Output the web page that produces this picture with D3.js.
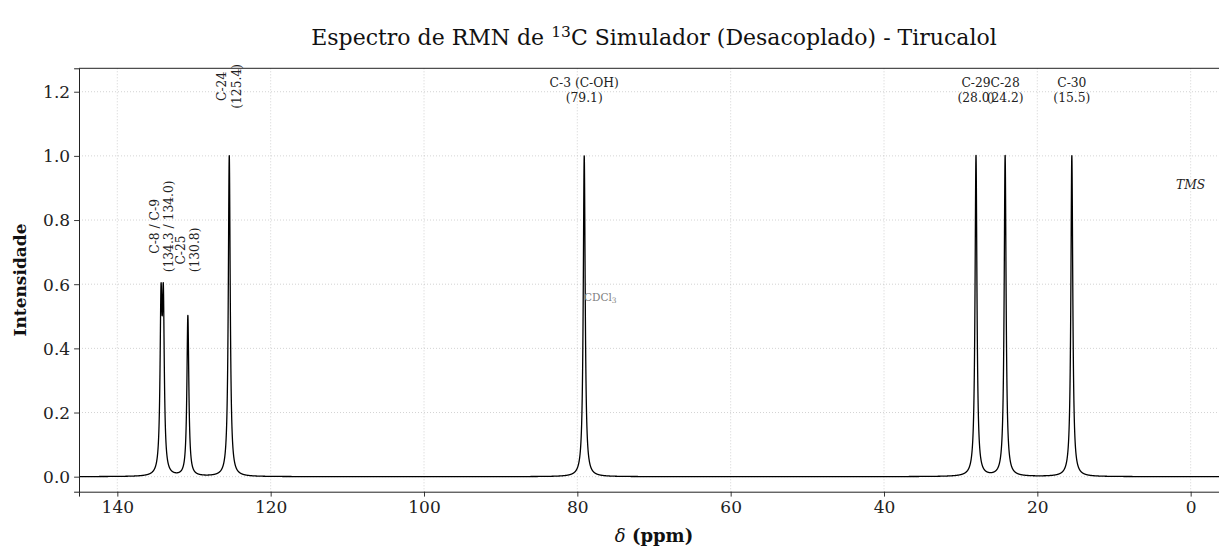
<!DOCTYPE html>
<html><head><meta charset="utf-8">
<script src="https://cdn.jsdelivr.net/npm/d3@7"></script>
<style>body{margin:0;background:#fff;overflow:hidden}text{font-family:"DejaVu Serif",serif}</style>
</head><body><svg id="c" width="1219" height="549"></svg>
<script>
// ---- data ----
const peakShifts = [134.3, 134.0, 130.8, 125.4, 79.1, 28.0, 24.2, 15.5];
const peakIntensities = [0.5, 0.5, 0.5, 1.0, 1.0, 1.0, 1.0, 1.0];
const lineHalfWidth = 0.15; // ppm (Lorentzian HWHM)
const labelTexts = [["C-8 / C-9", "(134.3 / 134.0)"], ["C-25", "(130.8)"], ["C-24", "(125.4)"],
  ["C-3 (C-OH)", "(79.1)"], ["C-29", "(28.0)"], ["C-28", "(24.2)"], ["C-30", "(15.5)"]];
const labelShifts = [134.15, 130.8, 125.4, 79.1, 28.0, 24.2, 15.5];
const labelHeights = [0.64, 0.64, 1.15, 1.15, 1.15, 1.15, 1.15];
const labelVertical = [true, true, true, false, false, false, false];
const solventLabel = {text: "CDCl", sub: "3", shift: 77.0, y: 0.56};
const refLabel = {text: "TMS", shift: 0.0, y: 0.91};
const xTicks = [140, 120, 100, 80, 60, 40, 20, 0];
const yTicks = [0.0, 0.2, 0.4, 0.6, 0.8, 1.0, 1.2];
const xDomain = [145, -5];
const yDomain = [-0.0468, 1.273];

// ---- spectrum curve from peak list (Lorentzian sum) ----
const curve = [];
for (let i = 0; i <= 30000; i++) {
  const d = xDomain[0] + (xDomain[1] - xDomain[0]) * i / 30000;
  let s = 0;
  peakShifts.forEach((p, k) => { const g = lineHalfWidth; s += peakIntensities[k] * g * g / ((d - p) * (d - p) + g * g); });
  curve.push([d, s]);
}

// ---- layout ----
const svg = d3.select("#c");
const L = 79, R = 1229, T = 68.3, B = 491.7;
const x = d3.scaleLinear().domain(xDomain).range([L, R]);
const y = d3.scaleLinear().domain(yDomain).range([B, T]);

// grid
const grid = svg.append("g");
grid.selectAll("line.gx").data(xTicks).join("line")
  .attr("x1", d => x(d)).attr("x2", d => x(d)).attr("y1", T).attr("y2", B)
  .attr("stroke", "#b0b0b0").attr("stroke-opacity", 0.7).attr("stroke-width", 0.8).attr("stroke-dasharray", "1,2");
grid.selectAll("line.gy").data(yTicks).join("line")
  .attr("x1", L).attr("x2", R).attr("y1", d => y(d)).attr("y2", d => y(d))
  .attr("stroke", "#b0b0b0").attr("stroke-opacity", 0.7).attr("stroke-width", 0.8).attr("stroke-dasharray", "1,2");

// curve
svg.append("path").datum(curve)
  .attr("d", d3.line().x(d => x(d[0])).y(d => y(d[1])))
  .attr("fill", "none").attr("stroke", "#000").attr("stroke-width", 1.3).attr("stroke-linejoin", "round");

// axes
const xAxis = svg.append("g").attr("transform", `translate(0,${B})`)
  .call(d3.axisBottom(x).tickValues(xTicks).tickFormat(d3.format("d")).tickSizeOuter(0).tickSize(4.9).tickPadding(4));
const yAxis = svg.append("g").attr("transform", `translate(${L},0)`)
  .call(d3.axisLeft(y).tickValues(yTicks).tickFormat(d3.format(".1f")).tickSizeOuter(0).tickSize(4.9).tickPadding(4));
[xAxis, yAxis].forEach(a => {
  a.selectAll("text").attr("font-family", "DejaVu Serif").attr("font-size", 17).attr("fill", "#222");
  a.selectAll("line").attr("stroke", "#222").attr("stroke-width", 0.9);
  a.select(".domain").attr("stroke", "#222").attr("stroke-width", 1);
});
yAxis.selectAll("text").attr("dy", "0.35em");
svg.append("line").attr("x1", L).attr("x2", R).attr("y1", T).attr("y2", T).attr("stroke", "#222").attr("stroke-width", 1);
svg.append("line").attr("x1", R).attr("x2", R).attr("y1", T).attr("y2", B).attr("stroke", "#222").attr("stroke-width", 1);

// peak labels
const lineH = 14.5, fs = 12.3;
labelTexts.forEach((lines, i) => {
  const px = x(labelShifts[i]), py = y(labelHeights[i]);
  if (labelVertical[i]) {
    const g = svg.append("g").attr("transform", `translate(${px},${py}) rotate(-90)`);
    const ts = lines.map((t, k) => g.append("text").text(t).attr("font-size", fs).attr("fill", "#222")
      .attr("text-anchor", "middle").attr("dominant-baseline", "central")
      .attr("y", (k - (lines.length - 1) / 2) * lineH));
    const W = d3.max(ts, t => t.node().getComputedTextLength());
    ts.forEach(t => t.attr("x", W / 2 - 1));
  } else {
    lines.forEach((t, k) => svg.append("text").text(t).attr("font-size", fs).attr("fill", "#222")
      .attr("text-anchor", "middle").attr("dominant-baseline", "central")
      .attr("x", px).attr("y", py - 3 - (lines.length - 1 - k) * lineH - lineH / 2));
  }
});

// solvent + reference labels
const sl = svg.append("text").attr("x", x(solventLabel.shift)).attr("y", y(solventLabel.y))
  .attr("text-anchor", "middle").attr("dominant-baseline", "central").attr("font-size", 10.5).attr("fill", "#808080");
sl.append("tspan").text(solventLabel.text);
sl.append("tspan").text(solventLabel.sub).attr("font-size", 7.5).attr("dy", 2.5);
svg.append("text").attr("x", x(refLabel.shift)).attr("y", y(refLabel.y)).text(refLabel.text)
  .attr("text-anchor", "middle").attr("dominant-baseline", "central").attr("font-size", 12.3)
  .attr("font-style", "italic").attr("fill", "#222");

// title
const title = svg.append("text").attr("x", (L + R) / 2).attr("y", 45).attr("text-anchor", "middle")
  .attr("font-size", 22).attr("fill", "#111");
title.append("tspan").text("Espectro de RMN de ");
title.append("tspan").text("13").attr("font-size", 15.5).attr("dy", -8);
title.append("tspan").text("C Simulador (Desacoplado) - Tirucalol").attr("dy", 8);

// axis labels
const xl = svg.append("text").attr("x", (L + R) / 2).attr("y", 542).attr("text-anchor", "middle")
  .attr("font-size", 18).attr("fill", "#111");
xl.append("tspan").text("δ").attr("font-style", "italic");
xl.append("tspan").text(" (ppm)").attr("font-weight", "bold");
svg.append("text").attr("transform", `translate(26,${(T + B) / 2}) rotate(-90)`).attr("text-anchor", "middle")
  .attr("font-size", 17).attr("font-weight", "bold").attr("fill", "#111").text("Intensidade");
</script></body></html>
